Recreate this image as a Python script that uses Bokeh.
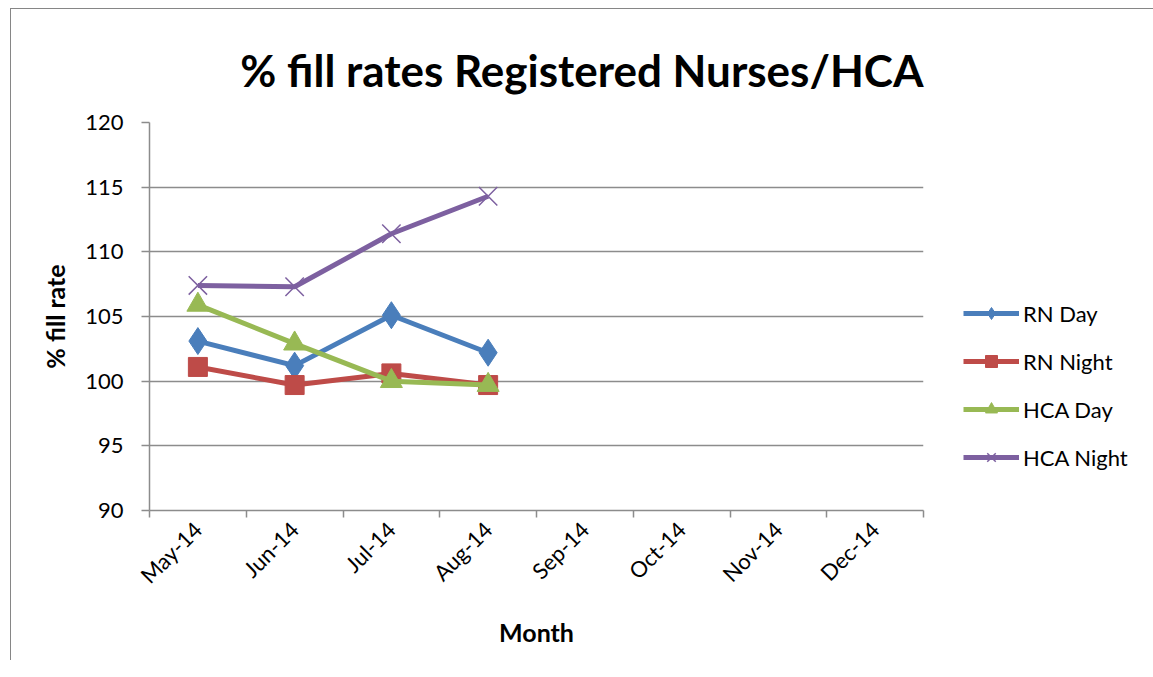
from bokeh.plotting import figure
from bokeh.models import FixedTicker, Legend, LegendItem, Range1d, ColumnDataSource
from bokeh.embed import file_html
from bokeh.resources import INLINE
import math

months = ["May-14", "Jun-14", "Jul-14", "Aug-14", "Sep-14", "Oct-14", "Nov-14", "Dec-14"]
rn_day = [103.1, 101.2, 105.1, 102.2]
rn_night = [101.1, 99.7, 100.6, 99.7]
hca_day = [105.9, 102.9, 100.0, 99.7]
hca_night = [107.4, 107.3, 111.4, 114.3]
y_ticks = [90, 95, 100, 105, 110, 115, 120]
title_text = "% fill rates Registered Nurses/HCA"

FONT = "Lato"

p = figure(frame_width=774, frame_height=388, output_backend="svg", toolbar_location=None,
           x_range=Range1d(0, len(months)), y_range=Range1d(90, 120),
           min_border_left=138, min_border_right=10, min_border_top=113, min_border_bottom=150)
p.styles = {"border-left": "1px solid #868686", "border-top": "1px solid #868686",
            "margin-left": "10px", "margin-top": "8px"}

p.title.text = title_text
p.title.text_font = FONT
p.title.text_font_size = "44px"
p.title.text_font_style = "bold"
p.title.align = "right"
p.title.vertical_align = "bottom"
p.title.standoff = 54
p.title.text_color = "black"

p.outline_line_color = None
p.xgrid.grid_line_color = None
p.ygrid.grid_line_color = "#8c8c8c"
p.ygrid.grid_line_width = 1.5
p.ygrid.ticker = FixedTicker(ticks=y_ticks)

centers = [i + 0.5 for i in range(len(months))]
xa = p.xaxis[0]
xa.ticker = FixedTicker(ticks=centers, minor_ticks=list(range(len(months) + 1)))
xa.major_label_overrides = {c: m for c, m in zip(centers, months)}
xa.major_label_orientation = math.pi / 4
xa.major_tick_in = 0
xa.major_tick_out = 0
xa.minor_tick_in = 0
xa.minor_tick_out = 7
xa.minor_tick_line_color = "#8c8c8c"
xa.minor_tick_line_width = 1.5
xa.axis_line_color = "#8c8c8c"
xa.axis_line_width = 1.5
xa.major_label_text_font = FONT
xa.major_label_text_font_size = "22px"
xa.major_label_text_color = "black"
xa.major_label_standoff = 8
xa.axis_label = "Month"
xa.axis_label_text_font = FONT
xa.axis_label_text_font_size = "25px"
xa.axis_label_text_font_style = "bold"
xa.axis_label_text_color = "black"
xa.axis_label_standoff = 16

ya = p.yaxis[0]
ya.ticker = FixedTicker(ticks=y_ticks)
ya.minor_tick_line_color = None
ya.major_tick_in = 0
ya.major_tick_out = 8
ya.major_tick_line_color = "#8c8c8c"
ya.major_tick_line_width = 1.5
ya.axis_line_color = "#8c8c8c"
ya.axis_line_width = 1.5
ya.major_label_text_font = FONT
ya.major_label_text_font_size = "22px"
ya.major_label_text_color = "black"
ya.major_label_standoff = 18
ya.axis_label = "% fill rate"
ya.axis_label_text_font = FONT
ya.axis_label_text_font_size = "25px"
ya.axis_label_text_font_style = "bold"
ya.axis_label_text_color = "black"
ya.axis_label_standoff = 12

series = [
    ("RN Day", rn_day, "#4A7EBB", "diamond", 27),
    ("RN Night", rn_night, "#BE4B48", "square", 19),
    ("HCA Day", hca_day, "#98B954", "triangle", 22),
    ("HCA Night", hca_night, "#7D60A0", "x", 26),
]
items = []
for name, vals, col, mk, sz in series:
    src = ColumnDataSource(dict(x=centers[:len(vals)], y=vals))
    ln = p.line("x", "y", source=src, line_color=col, line_width=5)
    if mk == "x":
        sc = p.scatter("x", "y", source=src, marker=mk, size=sz, line_color=col, line_width=1.5)
    else:
        sc = p.scatter("x", "y", source=src, marker=mk, size=sz, fill_color=col, line_color=col)
    items.append(LegendItem(label=name, renderers=[ln, sc]))

leg = Legend(items=items, location=(40, 38), orientation="vertical")
leg.border_line_color = None
leg.background_fill_alpha = 0
leg.label_text_font = FONT
leg.label_text_font_size = "22px"
leg.label_text_color = "black"
leg.glyph_width = 56
leg.glyph_height = 30
leg.spacing = 18
leg.label_standoff = 4
leg.padding = 0
p.add_layout(leg, "right")

open("out.html", "w").write(file_html(p, INLINE))
